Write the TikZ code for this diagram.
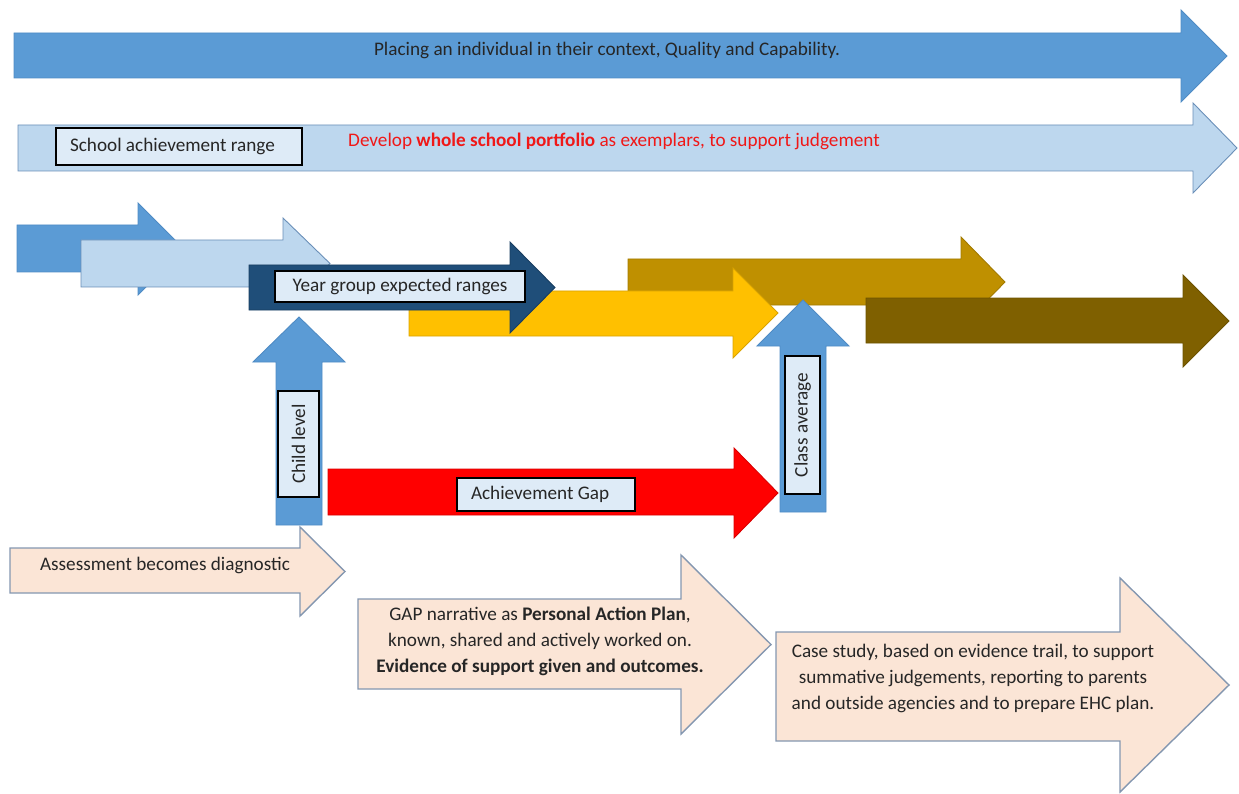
\documentclass[tikz,border=0pt]{standalone}
\usepackage{fontspec}
\setmainfont{Carlito}
\definecolor{midblue}{HTML}{5B9BD5}
\definecolor{midblueline}{HTML}{4F8BC4}
\definecolor{lightblue}{HTML}{BDD7EE}
\definecolor{lightblueline}{HTML}{6A8FB8}
\definecolor{navy}{HTML}{1F4E79}
\definecolor{yellowc}{HTML}{FFC000}
\definecolor{goldc}{HTML}{BF9000}
\definecolor{brownc}{HTML}{7F6000}
\definecolor{redc}{HTML}{FF0000}
\definecolor{peach}{HTML}{FBE5D6}
\definecolor{peachline}{HTML}{8497B0}
\definecolor{boxfill}{HTML}{DEEBF7}
\definecolor{txt}{HTML}{262626}
\definecolor{redtxt}{HTML}{F01818}
% right arrow: style, x0, ytop, ybot, xhead, yheadtop, yheadbot, xtip
\newcommand{\rarrow}[8]{\path[#1] (#2,#3) -- (#5,#3) -- (#5,#6) -- (#8,{(#6+#7)/2}) -- (#5,#7) -- (#5,#4) -- (#2,#4) -- cycle;}
% up arrow: style, xl, xr, ybot, yheadbase, xhl, xhr, ytip
\newcommand{\uarrow}[8]{\path[#1] (#2,#4) -- (#2,#5) -- (#6,#5) -- ({(#6+#7)/2},#8) -- (#7,#5) -- (#3,#5) -- (#3,#4) -- cycle;}
\tikzset{
  arr/.style={line width=0.9pt, line join=miter},
  bluearr/.style={arr, fill=midblue, draw=midblueline},
  lightarr/.style={arr, fill=lightblue, draw=lightblueline},
  navyarr/.style={arr, fill=navy, draw=navy!80!black},
  yellowarr/.style={arr, fill=yellowc, draw=yellowc!85!black},
  goldarr/.style={arr, fill=goldc, draw=goldc!85!black},
  brownarr/.style={arr, fill=brownc, draw=brownc!85!black},
  redarr/.style={arr, fill=redc, draw=redc!85!black},
  peacharr/.style={arr, line width=1.4pt, fill=peach, draw=peachline},
  txtfont/.style={font=\fontsize{19.2}{26}\selectfont, text=txt},
  labelbox/.style={txtfont, draw=black, line width=1.4pt, fill=boxfill, inner sep=0pt},
  plain/.style={txtfont, inner sep=0pt},
}
\begin{document}
\begin{tikzpicture}[x=1pt, y=-1pt]
\useasboundingbox (0,0) rectangle (1239,794);
% top arrows
\rarrow{bluearr}{14}{33}{78}{1181}{10}{102}{1227}
\rarrow{lightarr}{18}{125}{171}{1193}{103}{193}{1237}
% middle cluster
\rarrow{bluearr}{17}{225}{272}{138}{203}{295}{184}
\rarrow{lightarr}{81}{240}{287}{283}{218}{309}{330}
\rarrow{goldarr}{628}{259}{305}{961}{237}{327}{1005}
\rarrow{yellowarr}{409}{291}{336}{733}{268}{358}{778}
\rarrow{navyarr}{249}{265}{310}{510}{242}{333}{555}
\rarrow{brownarr}{866}{298}{343}{1183}{275}{367}{1229}
% up arrows and gap
\uarrow{bluearr}{276}{322}{525}{362}{253}{345}{317}
\uarrow{bluearr}{780}{826}{512}{346}{757}{849}{300}
\rarrow{redarr}{328}{469}{515}{734}{448}{538}{778}
% bottom peach arrows
\rarrow{peacharr}{10}{548}{593}{300}{527}{616}{345}
\rarrow{peacharr}{358}{599}{689}{681}{555}{734}{771}
\rarrow{peacharr}{776}{632}{741}{1120}{578}{792}{1229}
% texts
\node[plain] (placing) at (607,50) {Placing an individual in their context, Quality and Capability.};
\node[labelbox, text width=218, inner xsep=14, align=flush left, minimum height=37] (school) at (179,146.5) {School achievement range};
\node[plain, anchor=west, text=redtxt] (develop) at (348,141) {Develop \textbf{whole school portfolio} as exemplars, to support judgement};
\node[labelbox, minimum width=250, minimum height=31] (year) at (400,286.5) {Year group expected ranges};
\node[labelbox, rotate=90, minimum width=106, minimum height=41] (child) at (298.5,444) {Child level};
\node[labelbox, rotate=90, minimum width=138, minimum height=35] (class) at (802.5,425) {Class average};
\node[labelbox, text width=164, inner xsep=7, align=flush left, minimum height=33] (gap) at (546,494.5) {\hspace*{7pt}Achievement Gap};
\node[plain] (assess) at (165,565) {Assessment becomes diagnostic};
\node[plain, align=center] (narr) at (540,641) {GAP narrative as \textbf{Personal Action Plan},\\known, shared and actively worked on.\\\textbf{Evidence of support given and outcomes.}};
\node[plain, align=center] (case) at (973,678) {Case study, based on evidence trail, to support\\summative judgements, reporting to parents\\and outside agencies and to prepare EHC plan.};
\end{tikzpicture}
\end{document}
